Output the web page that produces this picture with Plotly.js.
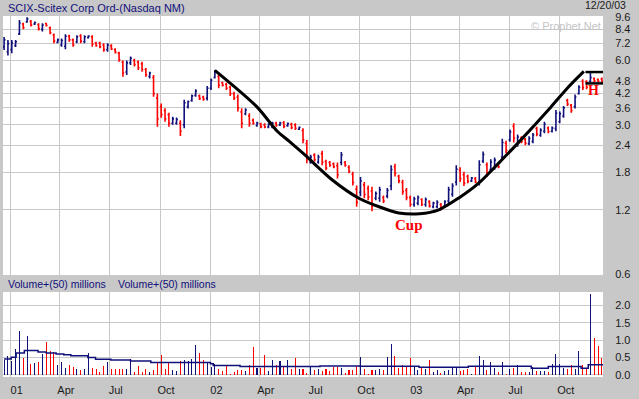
<!DOCTYPE html>
<html><head><meta charset="utf-8">
<script src="https://cdn.plot.ly/plotly-3.0.1.min.js"></script>
<style>html,body{margin:0;padding:0;background:#c8c8c8;}#chart{width:639px;height:399px;}</style>
</head><body><div id="chart"></div>
<script>
// Weekly bars, SCIX Scitex Corp, Dec 2000 - Dec 2003
const firstWeek = '2000-12-20';
const high = [7.74,7.49,7.49,7.49,9.29,9.03,9.57,9.29,9.13,8.97, 8.97,9.03,8.65,8.03,7.62,7.62,7.97,7.93,7.62,7.89, 7.97,7.89,7.89,7.89,7.35,7.35,7.23,7.23,7.15,6.85, 6.60,6.01,6.01,6.26,6.12,6.01,5.93,5.53,5.32,5.13, 4.21,3.78,3.59,3.42,3.27,3.25,3.15,3.93,3.90,4.16, 4.40,4.16,4.10,4.56,4.94,5.42,5.13,4.78,4.72,4.57, 4.29,4.16,3.59,3.59,3.40,3.21,3.10,3.07,3.05,3.05, 3.10,3.10,3.10,3.13,3.08,3.07,3.05,2.95,2.89,2.55, 2.17,2.21,2.17,2.27,2.06,2.03,2.00,2.00,2.24,2.03, 1.94,1.81,1.56,1.71,1.62,1.56,1.54,1.46,1.54,1.40, 1.52,1.94,1.97,1.75,1.66,1.52,1.40,1.38,1.40,1.36, 1.37,1.33,1.31,1.33,1.29,1.33,1.54,1.60,1.94,1.90, 1.81,1.75,1.71,1.71,2.05,2.25,2.00,2.07,2.11,2.00, 2.58,2.53,2.85,3.05,2.70,2.65,2.60,2.65,2.75,2.94, 2.89,3.10,2.95,2.95,3.52,3.46,3.68,3.97,3.76,4.16, 4.60,4.90,4.85,5.30,5.00,4.95,5.00];
const low = [6.72,6.34,6.50,6.95,7.90,8.40,9.03,8.65,8.80,8.29, 8.20,8.65,7.97,7.23,7.23,6.97,6.77,7.35,6.97,7.23, 7.23,7.23,7.62,6.97,6.97,6.85,6.60,6.60,6.72,6.47, 5.93,5.04,5.13,5.72,5.62,5.42,5.32,5.04,4.95,4.06, 2.94,3.24,3.10,2.94,3.00,3.00,2.66,2.89,3.58,3.85, 4.06,3.92,3.89,3.90,4.37,4.94,4.45,4.53,4.37,4.09, 3.92,3.46,2.89,3.33,2.94,3.00,2.94,2.89,2.89,2.89, 2.89,2.94,2.96,2.89,2.94,2.86,2.84,2.84,2.46,1.98, 1.97,2.02,1.97,1.94,1.84,1.91,1.88,1.68,1.94,1.91, 1.78,1.56,1.24,1.39,1.36,1.33,1.18,1.33,1.31,1.29, 1.36,1.48,1.72,1.60,1.41,1.33,1.24,1.24,1.26,1.25, 1.24,1.23,1.22,1.22,1.19,1.23,1.29,1.38,1.56,1.62, 1.55,1.60,1.62,1.60,1.56,1.99,1.71,1.81,1.85,1.88, 2.07,2.21,2.50,2.48,2.37,2.46,2.41,2.41,2.46,2.65, 2.64,2.74,2.74,2.76,2.80,3.05,3.24,3.68,3.42,3.58, 4.16,4.37,4.40,4.75,4.75,4.75,4.72];
const open = [6.95,6.60,6.75,7.05,8.00,8.90,9.10,9.15,8.90,8.85, 8.40,8.95,8.55,7.90,7.30,7.10,7.00,7.80,7.50,7.35, 7.85,7.35,7.68,7.75,7.25,7.25,7.10,6.75,7.05,6.75, 6.50,5.90,5.30,5.85,6.00,5.90,5.80,5.45,5.05,5.00, 4.00,3.65,3.50,3.35,3.05,3.05,3.05,3.00,3.65,3.90, 4.12,4.10,4.05,4.00,4.45,5.00,5.05,4.72,4.65,4.50, 4.20,4.05,3.45,3.38,3.30,3.15,2.98,3.03,3.00,2.93, 2.94,3.05,3.00,3.07,2.97,3.02,3.00,2.86,2.82,2.45, 2.01,2.17,2.01,2.20,2.02,2.00,1.97,1.93,2.00,2.00, 1.90,1.76,1.50,1.45,1.57,1.51,1.47,1.36,1.36,1.37, 1.39,1.55,1.91,1.72,1.61,1.48,1.37,1.27,1.29,1.34, 1.27,1.31,1.24,1.24,1.27,1.25,1.32,1.42,1.62,1.84, 1.75,1.72,1.64,1.68,1.62,2.03,1.95,1.85,1.89,1.97, 2.12,2.46,2.55,2.95,2.42,2.60,2.56,2.45,2.51,2.88, 2.68,2.80,2.90,2.80,2.88,3.10,3.30,3.90,3.70,3.65, 4.20,4.80,4.78,4.80,4.95,4.90,4.92];
const close = [7.50,7.20,7.25,7.35,9.00,8.55,9.40,8.80,9.05,8.45, 8.80,8.75,8.10,7.40,7.50,7.45,7.80,7.50,7.10,7.75, 7.40,7.75,7.82,7.15,7.05,6.95,6.75,7.10,6.80,6.55, 6.05,5.25,5.85,6.15,5.75,5.55,5.45,5.15,5.25,4.20, 3.20,3.35,3.20,3.05,3.20,3.18,2.80,3.80,3.85,4.10, 4.32,3.98,3.95,4.45,4.85,5.30,4.60,4.60,4.45,4.20, 4.00,3.60,3.05,3.52,3.05,3.05,3.06,2.94,2.93,3.01, 3.05,2.98,3.06,2.95,3.04,2.91,2.89,2.92,2.55,2.10, 2.12,2.06,2.12,2.00,1.88,1.94,1.91,1.75,2.17,1.94, 1.82,1.61,1.30,1.64,1.42,1.38,1.25,1.43,1.49,1.32, 1.48,1.85,1.78,1.64,1.46,1.37,1.27,1.35,1.37,1.27, 1.34,1.25,1.29,1.30,1.21,1.31,1.49,1.55,1.86,1.68, 1.60,1.63,1.69,1.62,1.95,2.18,1.78,2.01,2.05,1.91, 2.48,2.28,2.78,2.60,2.63,2.51,2.46,2.59,2.69,2.71, 2.83,3.02,2.79,2.90,3.40,3.38,3.60,3.75,3.50,4.05, 4.50,4.48,4.50,5.00,4.82,4.80,4.78];
// volume, millions of shares
const volume = [0.43,0.55,0.39,0.75,1.28,0.50,1.11,0.32,0.34,0.37, 0.60,0.94,0.68,0.65,0.29,0.36,0.19,0.29,0.24,0.16, 0.14,0.18,0.62,0.21,0.17,0.08,0.27,0.36,0.18,0.18, 0.16,0.16,0.16,0.47,0.07,0.26,0.07,0.16,0.07,0.14, 0.38,0.58,0.16,0.34,0.14,0.10,0.39,0.43,0.39,0.47, 0.87,0.63,0.42,0.34,0.24,0.31,0.18,0.10,0.26,0.04, 0.07,0.15,0.15,0.10,0.29,0.80,0.20,0.20,0.58,0.10, 0.43,0.29,0.39,0.26,0.43,0.16,0.50,0.16,0.16,0.05, 0.26,0.14,0.16,0.10,0.16,0.10,0.24,0.24,0.21,0.05, 0.13,0.14,0.26,0.51,0.18,0.03,0.13,0.13,0.16,0.13, 0.51,0.90,0.55,0.19,0.29,0.24,0.49,0.24,0.13,0.22, 0.16,0.43,0.07,0.14,0.05,0.10,0.14,0.21,0.21,0.10, 0.14,0.16,0.02,0.26,0.55,0.42,0.14,0.36,0.19,0.07, 0.36,0.03,0.16,0.21,0.29,0.07,0.07,0.07,0.22,0.10, 0.10,0.10,0.07,0.32,0.61,0.32,0.19,0.18,0.29,0.16, 0.68,0.29,0.16,2.32,1.05,0.84,0.48];
// 50-period volume average
const maDates = ['2000-12-20','2001-01-02','2001-01-11','2001-01-26','2001-02-20','2001-03-07','2001-03-25','2001-04-08','2001-04-21','2001-05-22','2001-06-05','2001-07-03','2001-08-08','2001-09-14','2002-01-01','2002-01-06','2002-02-24','2002-07-20','2002-09-30','2003-01-17','2003-04-17','2003-08-10','2003-09-10','2003-11-09','2003-11-22','2003-12-19'];
const maValues = [0.46,0.51,0.63,0.70,0.66,0.63,0.60,0.58,0.55,0.50,0.45,0.43,0.40,0.36,0.32,0.27,0.24,0.26,0.25,0.22,0.25,0.19,0.24,0.19,0.29,0.29];
// cup outline
const cupDates = ['2002-01-09','2002-03-26','2002-05-03','2002-05-25','2002-06-24','2002-08-11','2002-09-29','2002-11-05','2002-12-11','2003-01-18','2003-02-22','2003-03-30','2003-05-06','2003-06-11','2003-07-17','2003-09-15','2003-10-16','2003-11-14'];
const cupPrices = [5.40,3.66,2.80,2.51,2.15,1.66,1.36,1.24,1.16,1.15,1.20,1.36,1.60,1.98,2.47,3.64,4.49,5.34];
// handle box
const handleDates = ['2003-11-17','2003-12-20'];
const handleTop = [5.30,5.30];
const handleBottom = [4.69,4.69];
// axis ticks
const quarterDates = ['2001-01-01','2001-04-01','2001-07-01','2001-10-01','2002-01-01','2002-04-01','2002-07-01','2002-10-01','2003-01-01','2003-04-01','2003-07-01','2003-10-01'];
const quarterLabels = ['01','Apr','Jul','Oct','02','Apr','Jul','Oct','03','Apr','Jul','Oct'];
const priceTicks = [0.6,1.2,1.8,2.4,3.0,3.6,4.2,4.8,6.0,7.2,8.4,9.6];
const volumeTicks = [0,0.5,1,1.5,2];

const NAVY = '#10107a', RED = '#ff0000', GRID = '#c8c8c8';
const d0 = Date.UTC(2000, 11, 20);
const dates = high.map((_, i) => new Date(d0 + i * 7 * 864e5).toISOString().slice(0, 10));
const volColors = close.map((c, i) => c >= open[i] ? NAVY : RED);
const xRange = ['2000-12-18', '2003-12-19'];
const sans = 'Liberation Sans, Arial, sans-serif';
const serif = 'Liberation Serif, Times New Roman, serif';

const traces = [
  {type:'ohlc', x:dates, open:open, high:high, low:low, close:close, xaxis:'x', yaxis:'y',
   increasing:{line:{color:NAVY, width:1.6}}, decreasing:{line:{color:RED, width:1.6}}, tickwidth:0.35, hoverinfo:'skip'},
  {type:'scatter', mode:'lines', x:cupDates, y:cupPrices, xaxis:'x', yaxis:'y', line:{color:'#000', width:3, shape:'spline', smoothing:0.8}, hoverinfo:'skip'},
  {type:'scatter', mode:'lines', x:handleDates, y:handleTop, xaxis:'x', yaxis:'y', line:{color:'#000', width:2.5}, hoverinfo:'skip'},
  {type:'scatter', mode:'lines', x:handleDates, y:handleBottom, xaxis:'x', yaxis:'y', line:{color:'#000', width:2.5}, hoverinfo:'skip'},
  {type:'bar', x:dates, y:volume, xaxis:'x2', yaxis:'y2', marker:{color:volColors, line:{width:0}}, width:1.9*864e5, hoverinfo:'skip'},
  {type:'scatter', mode:'lines', x:maDates, y:maValues, xaxis:'x2', yaxis:'y2', line:{color:NAVY, width:1.5, shape:'hv'}, hoverinfo:'skip'}
];

const tf = {family:sans, size:11, color:'#1a1a1a'};
const layout = {
  width:639, height:399,
  margin:{l:3, r:36, t:16, b:22, pad:0},
  paper_bgcolor:'#c8c8c8', plot_bgcolor:'#ffffff',
  showlegend:false, bargap:0,
  xaxis:{type:'date', range:xRange, domain:[0,1], anchor:'y', tickvals:quarterDates, ticktext:quarterLabels,
    showticklabels:false, showgrid:true, gridcolor:GRID, gridwidth:1, zeroline:false, ticks:'', rangeslider:{visible:false}, showline:false},
  yaxis:{type:'log', domain:[0.2825,1], anchor:'x', range:[Math.log10(0.594), Math.log10(9.70)], side:'right',
    tickvals:priceTicks, ticktext:priceTicks.map(v => v.toFixed(1)), tickfont:tf, showgrid:true, gridcolor:GRID, gridwidth:1,
    zeroline:false, ticks:'outside', ticklen:9, tickcolor:'rgba(0,0,0,0)', showline:false},
  xaxis2:{type:'date', range:xRange, domain:[0,1], anchor:'y2', tickvals:quarterDates, ticktext:quarterLabels,
    tickfont:tf, ticklabelshift:6, showgrid:true, gridcolor:GRID, gridwidth:1, zeroline:false, ticks:'outside', ticklen:3,
    tickcolor:'rgba(0,0,0,0)', showline:false},
  yaxis2:{domain:[0,0.2355], anchor:'x2', range:[-0.06,2.39], side:'right', tickvals:volumeTicks,
    ticktext:volumeTicks.map(v => v.toFixed(1)), tickfont:tf, showgrid:true, gridcolor:GRID, gridwidth:1,
    zeroline:false, ticks:'outside', ticklen:9, tickcolor:'rgba(0,0,0,0)', showline:false},
  annotations:[
    {xref:'paper', yref:'paper', x:0.005, y:1.022, xanchor:'left', yanchor:'middle', showarrow:false,
     text:'SCIX-Scitex Corp Ord-(Nasdaq NM)', font:{family:sans, size:11, color:NAVY}},
    {xref:'paper', yref:'paper', x:1.0417, y:1.03, xanchor:'right', yanchor:'middle', showarrow:false,
     text:'12/20/03', font:{family:sans, size:10.5, color:'#1a1a1a'}},
    {xref:'paper', yref:'paper', x:1.0, y:0.972, xanchor:'right', yanchor:'middle', showarrow:false,
     text:'© Prophet.Net', font:{family:sans, size:11, color:'#c4c4c4'}},
    {xref:'paper', yref:'paper', x:0.005, y:0.2576, xanchor:'left', yanchor:'middle', showarrow:false,
     text:'Volume+(50) millions', font:{family:sans, size:10.5, color:NAVY}},
    {xref:'paper', yref:'paper', x:0.188, y:0.2576, xanchor:'left', yanchor:'middle', showarrow:false,
     text:'Volume+(50) millions', font:{family:sans, size:10.5, color:NAVY}},
    {xref:'x', yref:'y', x:'2002-12-30', y:Math.log10(1.024), showarrow:false, text:'<b>Cup</b>',
     font:{family:serif, size:15, color:RED}},
    {xref:'x', yref:'y', x:'2003-12-01', y:Math.log10(4.33), showarrow:false, text:'<b>H</b>',
     font:{family:serif, size:14, color:RED}}
  ]
};
Plotly.newPlot('chart', traces, layout, {staticPlot:true, displayModeBar:false});
</script></body></html>
